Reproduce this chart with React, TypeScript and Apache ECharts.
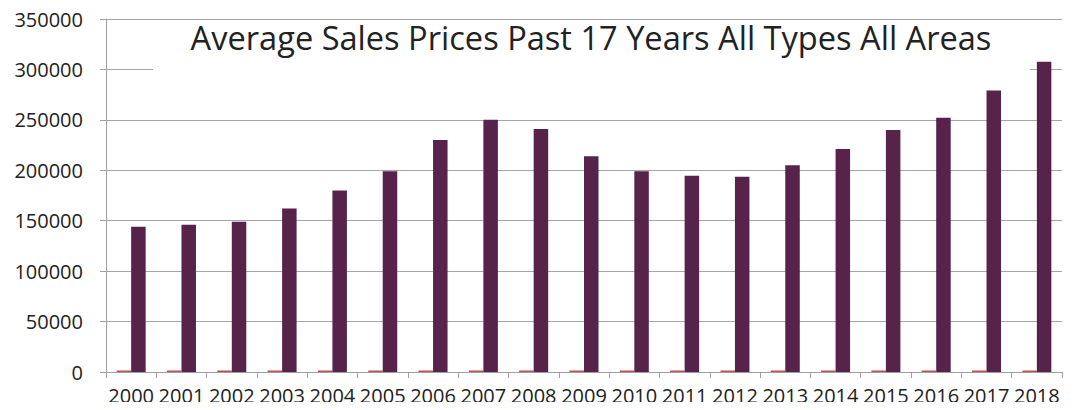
import React, { useEffect, useRef } from "react";
import * as echarts from "echarts";

const years = ["2000","2001","2002","2003","2004","2005","2006","2007","2008","2009","2010","2011","2012","2013","2014","2015","2016","2017","2018"];
const smallSeries = [1500,1500,1500,1500,1500,1500,1500,1500,1500,1500,1500,1500,1500,1500,1500,1500,1500,1500,1500];
const avgPrice = [144000,146000,149000,162000,180000,199000,230000,250000,241000,214000,199000,194500,193500,205000,221000,240000,252000,279000,307500];
const titleText = "Average Sales Prices Past 17 Years All Types All Areas";

export default function App() {
  const ref = useRef<HTMLDivElement>(null);
  useEffect(() => {
    const chart = echarts.init(ref.current!, null, { renderer: "svg" });
    const font = "'Open Sans', sans-serif";
    chart.setOption({
      animation: false,
      backgroundColor: "#ffffff",
      grid: { left: 106, right: 13, top: 19, bottom: 38 },
      xAxis: {
        type: "category",
        data: years,
        axisLine: { lineStyle: { color: "#a0a0a0", width: 1 } },
        axisTick: { show: true, length: 6, lineStyle: { color: "#a0a0a0" } },
        axisLabel: { color: "#222", fontSize: 20, fontFamily: font, margin: 13, interval: 0 },
      },
      yAxis: {
        type: "value",
        min: 0,
        max: 350000,
        interval: 50000,
        axisLine: { show: true, lineStyle: { color: "#a0a0a0", width: 1 } },
        axisTick: { show: true, length: 6, lineStyle: { color: "#a0a0a0" } },
        axisLabel: { color: "#222", fontSize: 20, fontFamily: font, margin: 23, formatter: (v: number) => String(v) },
        splitLine: { lineStyle: { color: "#a6a6a6", width: 1 } },
      },
      graphic: [
        { type: "line", z: 1, shape: { x1: 1, y1: 0, x2: 1, y2: 410 }, style: { stroke: "#d4d4d4", lineWidth: 2 } },
        { type: "rect", z: 1, shape: { x: 153, y: 20.5, width: 877, height: 90 }, style: { fill: "#ffffff" } },
        {
          type: "text", z: 3, x: 591, y: 37,
          style: { text: titleText, fill: "#222", fontSize: 32.6, fontFamily: font, align: "center", verticalAlign: "middle" },
        },
      ],
      series: [
        { type: "bar", data: smallSeries, barWidth: 14.5, barGap: "0%", itemStyle: { color: "#c0504d" } },
        { type: "bar", data: avgPrice, barWidth: 14.5, barGap: "0%", itemStyle: { color: "#57234a" } },
      ],
    });
    return () => chart.dispose();
  }, []);
  return <div ref={ref} style={{ width: 1075, height: 410, margin: -8 }} />;
}
